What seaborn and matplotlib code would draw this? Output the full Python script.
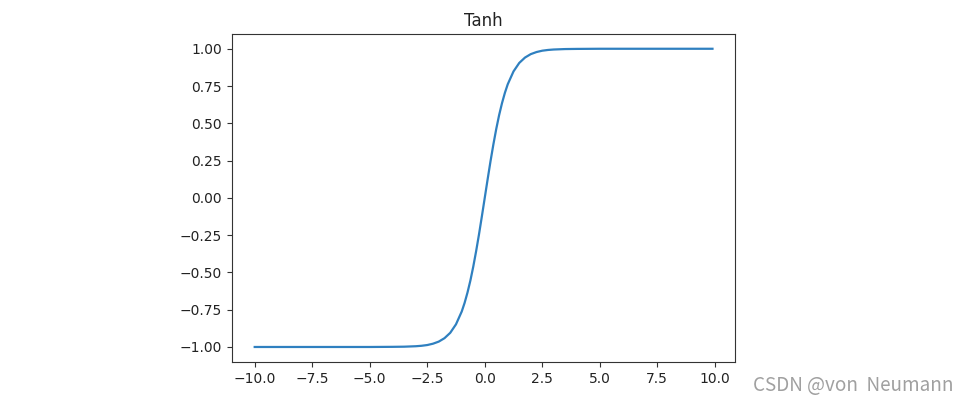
import numpy as np
import pandas as pd
import matplotlib
matplotlib.use('Agg')
import matplotlib.pyplot as plt
import seaborn as sns

# values
x_vals = [-10.0, -9.0, -8.0, -7.0, -6.0, -5.0, -4.0, -3.5, -3.0, -2.75, -2.5, -2.25,
          -2.0, -1.75, -1.5, -1.25, -1.0, -0.875, -0.75, -0.625, -0.5, -0.375,
          -0.25, -0.125, 0.0, 0.125, 0.25, 0.375, 0.5, 0.625, 0.75, 0.875, 1.0,
          1.25, 1.5, 1.75, 2.0, 2.25, 2.5, 2.75, 3.0, 3.5, 4.0, 5.0, 6.0, 7.0,
          8.0, 9.0, 9.9]
y_vals = [-1.0, -1.0, -1.0, -1.0, -1.0, -1.0, -0.999, -0.998, -0.995, -0.992,
          -0.987, -0.978, -0.964, -0.941, -0.905, -0.848, -0.762, -0.704,
          -0.635, -0.555, -0.462, -0.358, -0.245, -0.124, 0.0, 0.124, 0.245,
          0.358, 0.462, 0.555, 0.635, 0.704, 0.762, 0.848, 0.905, 0.941, 0.964,
          0.978, 0.987, 0.992, 0.995, 0.998, 0.999, 1.0, 1.0, 1.0, 1.0, 1.0, 1.0]

df = pd.DataFrame({'x': x_vals, 'y': y_vals})

fig = plt.figure(figsize=(9.74, 4.03), dpi=100)
ax = fig.add_axes([0.238, 0.102, 0.517, 0.814])

sns.lineplot(data=df, x='x', y='y', color='#2f80c0', linewidth=1.6, ax=ax)
ax.set_title('Tanh', fontsize=12, color='#222222')
ax.set_xlabel('')
ax.set_ylabel('')
ax.set_xticks([-10.0, -7.5, -5.0, -2.5, 0.0, 2.5, 5.0, 7.5, 10.0])
ax.set_yticks([-1.0, -0.75, -0.5, -0.25, 0.0, 0.25, 0.5, 0.75, 1.0])
ax.tick_params(labelsize=10, labelcolor='#222222', color='#333333')
for s in ax.spines.values():
    s.set_color('#333333')

# watermark
fig.text(0.773, 0.03, 'CSDN @von  Neumann', fontsize=13.6, color='#a0a0a0',
         family=['Noto Sans CJK SC', 'DejaVu Sans'])

fig.savefig('out.png', dpi=100)
